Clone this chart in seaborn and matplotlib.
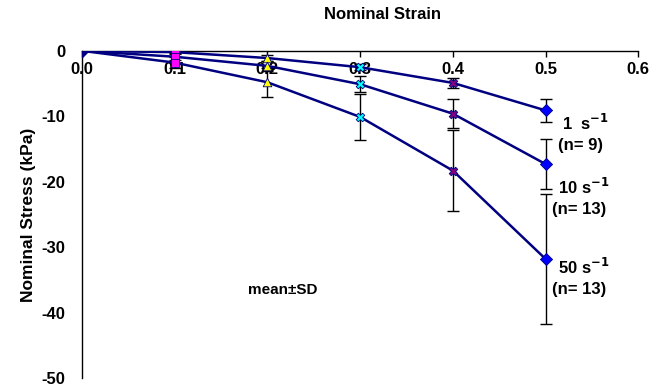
import pandas as pd
import seaborn as sns
import matplotlib.pyplot as plt

sns.set_style("white")
plt.rcParams['font.family'] = ['Liberation Sans', 'DejaVu Sans']
plt.rcParams['font.weight'] = 'bold'
plt.rcParams['axes.unicode_minus'] = False
plt.rcParams['mathtext.default'] = 'bf'
plt.rcParams['text.color'] = 'black'
plt.rcParams['axes.labelcolor'] = 'black'
plt.rcParams['xtick.color'] = 'black'
plt.rcParams['ytick.color'] = 'black'

# Data
strain = [0.0, 0.1, 0.2, 0.3, 0.4, 0.5]
stress_1 = [0.0, -0.2, -1.1, -2.5, -4.9, -9.1]
sd_1 = [0.0, 0.3, 0.4, 0.5, 0.8, 1.8]
stress_10 = [0.0, -0.9, -2.3, -5.1, -9.6, -17.3]
sd_10 = [0.0, 0.5, 0.8, 1.2, 2.2, 3.8]
stress_50 = [0.0, -1.8, -4.8, -10.1, -18.3, -31.8]
sd_50 = [0.0, 0.8, 2.2, 3.5, 6.2, 9.9]

rate_labels = ['1  s$^{-1}$', '10 s$^{-1}$', '50 s$^{-1}$']
n_labels = ['(n= 9)', '(n= 13)', '(n= 13)']
label_x = [0.518, 0.513, 0.513]
label_y = [-11.0, -20.8, -33.0]
n_x = [0.513, 0.507, 0.507]
n_y = [-14.5, -24.2, -36.4]

# Excel-style marker per strain level
point_markers = ['D', 's', '^', 'X', 'X', 'D']
point_colors = ['#000080', '#FF00FF', '#FFFF00', '#00FFFF', '#800080', '#0000FF']

fig = plt.figure(figsize=(6.5, 3.91), dpi=100)
ax = fig.add_axes([0.126, 0.033, 0.856, 0.837])

series = [(stress_1, sd_1), (stress_10, sd_10), (stress_50, sd_50)]
for ys, sd in series:
    ax.errorbar(strain, ys, yerr=sd, fmt='none', ecolor='black',
                elinewidth=1, capsize=4, capthick=1, zorder=2)
    sns.lineplot(x=strain, y=ys, color='#000080', linewidth=1.8, ax=ax, zorder=3)
    for xv, yv, m, c in zip(strain, ys, point_markers, point_colors):
        ax.scatter([xv], [yv], marker=m, s=38, color=c,
                   edgecolor='#000080', linewidth=0.6, zorder=4)

for lab, n, lx, ly, nx, ny in zip(rate_labels, n_labels, label_x, label_y, n_x, n_y):
    ax.text(lx, ly, lab, fontsize=12, fontweight='bold', va='center')
    ax.text(nx, ny, n, fontsize=12, fontweight='bold', va='center')

ax.text(0.179, -36.5, 'mean±SD', fontsize=11, fontweight='bold', va='center')

ax.set_xlim(0, 0.6)
ax.set_ylim(-50, 0)
ax.set_xticks([0.0, 0.1, 0.2, 0.3, 0.4, 0.5, 0.6])
ax.set_xticklabels(['0.0', '0.1', '0.2', '0.3', '0.4', '0.5', '0.6'])
ax.set_yticks([0, -10, -20, -30, -40, -50])

ax.spines['bottom'].set_visible(False)
ax.spines['right'].set_visible(False)
ax.spines['top'].set_linewidth(1)
ax.spines['left'].set_linewidth(1)
ax.spines['top'].set_color('black')
ax.spines['left'].set_color('black')

ax.xaxis.set_ticks_position('top')
ax.tick_params(axis='x', direction='in', length=4, width=1, pad=-19,
               labelsize=12, labeltop=True, labelbottom=False)
ax.tick_params(axis='y', direction='in', length=4, width=1, labelsize=12, pad=12)
for t in ax.get_xticklabels() + ax.get_yticklabels():
    t.set_fontweight('bold')

ax.set_ylabel('Nominal Stress (kPa)', fontsize=12.5, fontweight='bold', labelpad=4)
fig.text(0.588, 0.962, 'Nominal Strain', fontsize=12, fontweight='bold', ha='center', va='center')

plt.savefig('out.png', dpi=100)
